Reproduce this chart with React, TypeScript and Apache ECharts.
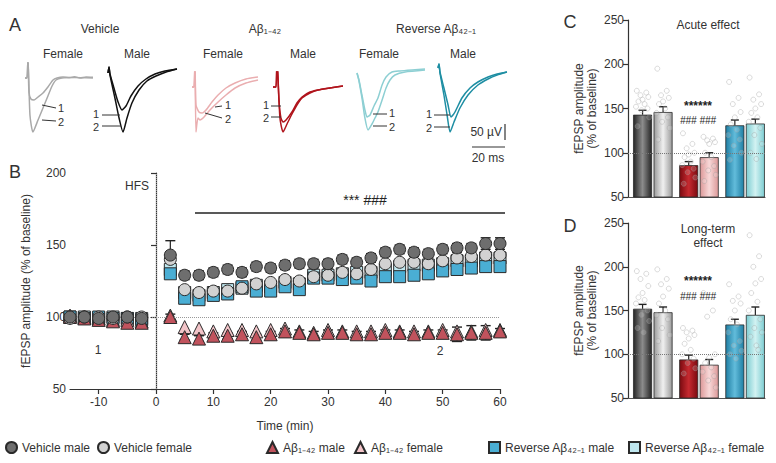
import React, { useEffect, useRef } from "react";
import * as echarts from "echarts";

const FONT = "'Liberation Sans', Arial, Helvetica, sans-serif";
const TXT = "#333";

// ---------- Panel A: example traces (time in ms, amplitude in µV) ----------
const vehFemaleT1 = [[0,0],[1.2,0],[1.8,80],[2.4,-56],[3.6,-84],[5.5,-88],[7.9,-76],[10.9,-60],[13.9,-36],[17,-8],[19.4,0],[23,4],[27.3,2],[30,5],[33.3,0],[37,4],[41.2,3]];
const vehFemaleT2 = [[0,0],[1.2,0],[1.8,80],[3,-148],[4.8,-216],[7.9,-168],[10.9,-120],[13.9,-72],[16.4,-32],[18.8,-8],[22.4,0],[30,2],[41.2,0]];
const vehMaleT1 = [[0,0],[0.6,24],[1.2,-4],[3.6,-60],[6.1,-116],[8.5,-148],[10.9,-132],[13.9,-92],[18.2,-52],[23,-24],[28.5,-4],[34.5,8],[41.8,16]];
const vehMaleT2 = [[0,0],[0.6,24],[1.2,-8],[4.2,-100],[6.7,-180],[9.1,-236],[11.5,-180],[14.5,-120],[18.8,-68],[23.6,-32],[29.1,-12],[35.2,4],[41.8,16]];
const abFemaleT1 = [[0,0],[1.2,0],[1.8,100],[2.4,-72],[4.2,-100],[6.1,-104],[8.5,-92],[12.1,-60],[15.8,-32],[20.6,-4],[26.1,16],[32.7,32],[40,40]];
const abFemaleT2 = [[0,0],[1.2,0],[1.8,100],[2.4,-180],[3.6,-124],[4.8,-132],[7.3,-120],[10.9,-92],[15.8,-60],[20.6,-32],[26.1,-4],[32.7,16],[40,28]];
const abMaleT1 = [[0,0],[1.8,0],[2.4,116],[3.6,-52],[4.8,-124],[6.1,-140],[7.9,-132],[11.5,-100],[14.5,-64],[17.6,-40],[22.4,-20],[27.3,-12],[34.5,-4],[42.4,4]];
const abMaleT2 = [[0,0],[1.8,0],[2.4,116],[4.2,-124],[6.1,-180],[8.5,-148],[11.5,-108],[14.5,-72],[17.6,-44],[22.4,-24],[27.3,-12],[34.5,-4],[42.4,4]];
const revFemaleT1 = [[0,0],[1.2,-28],[3,-88],[4.8,-148],[6.1,-176],[7.9,-168],[10.3,-132],[12.7,-100],[15.2,-48],[17.6,-16],[21.2,4],[26.1,8],[33.3,12],[41.2,16]];
const revFemaleT2 = [[0,0],[1.2,-32],[3,-100],[4.8,-180],[6.7,-228],[9.1,-204],[10.9,-180],[12.7,-156],[15.2,-108],[17.6,-60],[20,-28],[23,-8],[29.1,4],[41.2,12]];
const revMaleT1 = [[0,8],[0.6,24],[1.2,-8],[3.6,-72],[6.1,-140],[7.9,-188],[10.3,-168],[14.5,-112],[19.4,-72],[24.2,-48],[30.3,-28],[35.8,-16],[41.8,-8]];
const revMaleT2 = [[0,8],[0.6,24],[1.2,-12],[3.6,-100],[5.5,-180],[7.3,-248],[9.7,-208],[13.3,-152],[18.2,-100],[24.2,-60],[30.3,-36],[35.8,-20],[41.8,-8]];

// ---------- Panel B: time course ----------
const times = [-15,-12.5,-10,-7.5,-5,-2.5,2.5,5,7.5,10,12.5,15,17.5,20,22.5,25,27.5,30,32.5,35,37.5,40,42.5,45,47.5,50,52.5,55,57.5,60];
const vehicleMale = [100,100,99,100,100,99,143,129,129,131,133,131,135,134,136,137,137,137,140,138,141,145,147,145,144,147,148,148,151,151];
const vehicleFemale = [99,100,100,99,100,100,140,119,117,118,118,120,123,124,126,125,128,129,131,130,133,137,138,138,137,139,141,142,143,143];
const reverseMale = [100,99,100,99,99,98,130,113,112,115,116,121,118,118,121,119,127,127,126,127,125,128,128,129,130,132,133,134,135,135];
const reverseFemale = [100,100,99,100,99,99,133,117,115,117,119,120,122,121,124,123,129,129,130,131,131,133,135,136,136,137,139,139,141,141];
const abMale = [100,99,98,97,96,96,100,86,85,87,87,88,86,88,90,89,88,89,89,88,88,89,89,88,89,89,88,89,89,90];
const abFemale = [101,100,99,98,98,97,101,93,92,90,91,91,90,91,92,90,89,91,90,90,90,91,90,90,90,91,90,90,91,91];
const vehicleMaleSem = [2,2,2,2,2,2,10,3,3,3,3,3,3,3,3,3,3,3,3,3,3,3,3,3,3,3,3,3,4,4];
const abMaleSem = [2,2,2,2,2,2,2,2,2,2,2,2,2,2,2,2,2,2,2,2,2,2,2,2,2,2,5,5,5,2];
const bXTicks = [-10,0,10,20,30,40,50,60];

// ---------- Panels C and D: bar summaries ----------
const acuteMeans = [143,146,86,95,131,133];
const acuteSem = [5,6,4,5,6,5];
const longMeans = [152,148,94,88,134,145];
const longSem = [5,6,5,6,6,9];
const acuteIndividual = [
  [170,168,165,163,160,158,155,152,150,148,140,130],
  [195,170,165,162,158,155,150,145,140,135,128,115],
  [122,110,105,100,98,95,90,86,82,78,72,65],
  [118,116,114,112,110,100,95,90,85,80,75,68],
  [180,162,155,146,140,132,126,120,115,108,100,92],
  [185,166,160,155,150,145,140,135,128,120,110,100,93],
];
const longIndividual = [
  [195,192,186,178,170,165,162,158,150,145,138,130,125],
  [197,186,180,175,166,158,150,145,140,130,122,115],
  [130,127,125,122,118,112,105,100,95,90,84,78],
  [170,150,143,100,96,90,85,80,75,70,62],
  [180,166,161,158,150,140,134,125,115,110,104,100,95],
  [236,212,200,186,181,170,160,150,140,130,125,120,110,105],
];

// ---------- layout / style ----------
const barX = [1, 2, 3.25, 4.25, 5.5, 6.5];
const jitter = [-0.28,0.18,-0.1,0.28,0,-0.2,0.1,-0.32,0.24,-0.05,0.32,-0.24,0.05,0.14];
const barColors = [
  ["#262626", "#8c8c8c"],
  ["#9a9a9a", "#f0f0f0"],
  ["#7a0a10", "#c62a30"],
  ["#dc9898", "#f8d8d8"],
  ["#1f7ea3", "#62bcdb"],
  ["#7dcdd2", "#d2f2f2"],
];
const tracePanels = [
  { x0: 25, y0: 78, color: "#a9a9a9", t: [vehFemaleT1, vehFemaleT2] },
  { x0: 108, y0: 73, color: "#111111", t: [vehMaleT1, vehMaleT2] },
  { x0: 192, y0: 87, color: "#eaaeb0", t: [abFemaleT1, abFemaleT2] },
  { x0: 273, y0: 87, color: "#b0141c", t: [abMaleT1, abMaleT2] },
  { x0: 357, y0: 73, color: "#8dcfd3", t: [revFemaleT1, revFemaleT2] },
  { x0: 438, y0: 70, color: "#1e8ea3", t: [revMaleT1, revMaleT2] },
];

function txt(x: number, y: number, text: string, size = 12, align = "center", extra: any = {}) {
  return {
    type: "text", x, y, silent: true, z: 100,
    style: { text, fill: TXT, fontSize: size, fontFamily: FONT, textAlign: align, textVerticalAlign: "middle", ...extra },
  };
}
function ln(x1: number, y1: number, x2: number, y2: number, w = 1, color = "#333") {
  return { type: "line", silent: true, z: 100, shape: { x1, y1, x2, y2 }, style: { stroke: color, lineWidth: w } };
}

function errRender(color: string, both: boolean, cap: number) {
  return (params: any, api: any) => {
    const x = api.value(0), y = api.value(1), e = api.value(2);
    const top = api.coord([x, y + e]);
    const bot = api.coord([x, both ? y - e : y]);
    const children: any[] = [
      { type: "line", shape: { x1: top[0], y1: bot[1], x2: top[0], y2: top[1] }, style: { stroke: color, lineWidth: 1.2 } },
      { type: "line", shape: { x1: top[0] - cap, y1: top[1], x2: top[0] + cap, y2: top[1] }, style: { stroke: color, lineWidth: 1.4 } },
    ];
    if (both) children.push({ type: "line", shape: { x1: top[0] - cap, y1: bot[1], x2: top[0] + cap, y2: bot[1] }, style: { stroke: color, lineWidth: 1.4 } });
    return { type: "group", children };
  };
}

function buildOption() {
  const grid: any[] = [];
  const xAxis: any[] = [];
  const yAxis: any[] = [];
  const series: any[] = [];

  tracePanels.forEach((p, i) => {
    grid.push({ left: p.x0, top: p.y0 - 15, width: 43 * 1.65, height: 80 });
    xAxis.push({ gridIndex: i, type: "value", min: 0, max: 43, show: false });
    yAxis.push({ gridIndex: i, type: "value", min: -260, max: 60, show: false });
    p.t.forEach((d) => {
      series.push({ type: "line", xAxisIndex: i, yAxisIndex: i, data: d, showSymbol: false, smooth: 0.2, silent: true, lineStyle: { color: p.color, width: 1.5 } });
    });
  });

  const axisLine = { lineStyle: { color: "#333", width: 1.2 } };
  const axisLabel = { fontSize: 12, color: TXT, fontFamily: FONT };
  const nameStyle = { fontSize: 12, color: TXT, fontFamily: FONT };

  // Panel B
  grid.push({ left: 70, top: 173, width: 430, height: 216 });
  xAxis.push({
    gridIndex: 6, type: "value", min: -15, max: 60,
    axisLine, axisTick: { customValues: bXTicks, length: 5, lineStyle: { color: "#333", width: 1.2 } },
    axisLabel: { ...axisLabel, customValues: bXTicks, margin: 7 }, splitLine: { show: false },
    name: "Time (min)", nameLocation: "middle", nameGap: 31, nameTextStyle: nameStyle,
  });
  yAxis.push({
    gridIndex: 6, type: "value", min: 50, max: 200, interval: 50,
    axisLine: { show: true, ...axisLine }, axisTick: { show: true, length: 5, lineStyle: { color: "#333", width: 1.2 } },
    axisLabel: { ...axisLabel, margin: 4 }, splitLine: { show: false },
    name: "fEPSP amplitude (% of baseline)", nameLocation: "middle", nameRotate: 90, nameGap: 38,
    nameTextStyle: nameStyle,
  });

  const bSpecs = [
    { name: "Reverse Aβ₄₂₋₁ female", data: reverseFemale, symbol: "rect", color: "#bfe7ef" },
    { name: "Reverse Aβ₄₂₋₁ male", data: reverseMale, symbol: "rect", color: "#4aaed4" },
    { name: "Aβ₁₋₄₂ female", data: abFemale, symbol: "triangle", color: "#f2c4c8" },
    { name: "Aβ₁₋₄₂ male", data: abMale, symbol: "triangle", color: "#c1535d" },
    { name: "Vehicle female", data: vehicleFemale, symbol: "circle", color: "#d2d2d2" },
    { name: "Vehicle male", data: vehicleMale, symbol: "circle", color: "#6e6e6e" },
  ];

  series.push({
    type: "custom", xAxisIndex: 6, yAxisIndex: 6, silent: true, z: 1,
    renderItem: errRender("#222", true, 5),
    data: times.map((t, i) => [t, abMale[i], abMaleSem[i]]),
  });
  series.push({
    type: "custom", xAxisIndex: 6, yAxisIndex: 6, silent: true, z: 1,
    renderItem: errRender("#222", true, 5),
    data: times.map((t, i) => [t, vehicleMale[i], vehicleMaleSem[i]]),
  });

  bSpecs.forEach((s, k) => {
    const ser: any = {
      type: "scatter", name: s.name, xAxisIndex: 6, yAxisIndex: 6, silent: true, z: 2 + k,
      symbol: s.symbol, symbolSize: s.symbol === "triangle" ? 13 : 12,
      itemStyle: { color: s.color, borderColor: "#2a2a2a", borderWidth: 1, opacity: 1 },
      data: times.map((t, i) => [t, s.data[i]]),
    };
    if (k === 0) {
      ser.markLine = {
        silent: true, symbol: "none", label: { show: false },
        lineStyle: { type: "dotted", color: "#999", width: 1 },
        data: [{ yAxis: 100 }, { xAxis: 0 }],
      };
    }
    series.push(ser);
  });

  // Panels C and D
  const barPanels = [
    { top: 20, height: 177, means: acuteMeans, sem: acuteSem, ind: acuteIndividual },
    { top: 223, height: 175, means: longMeans, sem: longSem, ind: longIndividual },
  ];
  barPanels.forEach((bp, j) => {
    const gi = 7 + j;
    grid.push({ left: 628, top: bp.top, width: 137, height: bp.height });
    xAxis.push({
      gridIndex: gi, type: "value", min: 0.29, max: 6.97,
      axisLine: { lineStyle: { color: "#555", width: 1.2 } }, axisTick: { show: false }, axisLabel: { show: false }, splitLine: { show: false },
    });
    yAxis.push({
      gridIndex: gi, type: "value", min: 50, max: 250, interval: 50,
      axisLine: { show: true, ...axisLine }, axisTick: { show: true, length: 5, lineStyle: { color: "#333", width: 1.2 } },
      axisLabel: { ...axisLabel, margin: 4 }, splitLine: { show: false },
      name: "fEPSP amplitude\n(% of baseline)", nameLocation: "middle", nameRotate: 90, nameGap: 30,
      nameTextStyle: { ...nameStyle, lineHeight: 13 },
    });
    series.push({
      type: "bar", xAxisIndex: gi, yAxisIndex: gi, barWidth: 19, silent: true, z: 2,
      data: bp.means.map((m, i) => ({
        value: [barX[i], m],
        itemStyle: {
          color: new echarts.graphic.LinearGradient(0, 0, 1, 0, [
            { offset: 0, color: barColors[i][0] },
            { offset: 0.5, color: barColors[i][1] },
            { offset: 1, color: barColors[i][0] },
          ]),
          borderColor: "#2a2a2a", borderWidth: 0.8,
        },
      })),
    });
    series.push({
      type: "custom", xAxisIndex: gi, yAxisIndex: gi, silent: true, z: 3,
      renderItem: errRender("#222", false, 4),
      data: bp.means.map((m, i) => [barX[i], m, bp.sem[i]]),
    });
    const pts: number[][] = [];
    bp.ind.forEach((arr, i) => arr.forEach((v, k) => pts.push([barX[i] + jitter[k % jitter.length], v])));
    series.push({
      type: "scatter", xAxisIndex: gi, yAxisIndex: gi, silent: true, z: 4, symbolSize: 5,
      itemStyle: { color: "rgba(255,255,255,0.2)", borderColor: "rgba(160,160,160,0.6)", borderWidth: 0.8 },
      data: pts,
      markLine: {
        silent: true, symbol: "none", label: { show: false },
        lineStyle: { type: "dotted", color: "#777", width: 1 },
        data: [{ yAxis: 100 }],
      },
    });
  });

  const legendSpecs = [
    { name: "Vehicle male", left: 5 },
    { name: "Vehicle female", left: 97 },
    { name: "Aβ₁₋₄₂ male", left: 266 },
    { name: "Aβ₁₋₄₂ female", left: 354 },
    { name: "Reverse Aβ₄₂₋₁ male", left: 488 },
    { name: "Reverse Aβ₄₂₋₁ female", left: 628 },
  ];
  const legend = legendSpecs.map((l) => ({
    data: [l.name], left: l.left, top: 441, padding: 0, itemWidth: 11, itemHeight: 11, itemGap: 4,
    selectedMode: false, textStyle: { fontSize: 12, color: TXT, fontFamily: FONT },
  }));

  const graphic: any[] = [
    txt(15, 25, "A", 18),
    txt(100, 29, "Vehicle"),
    txt(265, 29, "Aβ₁₋₄₂"),
    txt(436, 29, "Reverse Aβ₄₂₋₁"),
    txt(63, 54, "Female"), txt(137, 54, "Male"),
    txt(223, 54, "Female"), txt(303, 54, "Male"),
    txt(379, 54, "Female"), txt(463, 54, "Male"),
    // trace labels
    ln(42, 105, 56, 108), txt(61, 108, "1", 11), ln(42, 120, 56, 121), txt(61, 122, "2", 11),
    ln(102, 115, 120, 115), txt(99, 114, "1", 11, "right"), ln(102, 126, 121, 126), txt(99, 127, "2", 11, "right"),
    ln(215, 107, 222, 106), txt(228, 105, "1", 11), ln(205, 113, 222, 118), txt(228, 119, "2", 11),
    ln(271, 106, 281, 106), txt(269, 105, "1", 11, "right"), ln(271, 117, 281, 117), txt(269, 118, "2", 11, "right"),
    ln(373, 114, 387, 114), txt(392, 113, "1", 11), ln(373, 126, 387, 126), txt(392, 127, "2", 11),
    ln(434, 115, 450, 115), txt(432, 114, "1", 11, "right"), ln(434, 127, 450, 127), txt(432, 128, "2", 11, "right"),
    // scale bar
    ln(505, 124, 505, 140, 1.2), txt(502, 132, "50 µV", 12, "right"),
    ln(472, 147, 505, 147, 1.2), txt(488, 158, "20 ms", 12),
    // panel B
    txt(15, 172, "B", 18),
    txt(137, 186, "HFS", 12),
    ln(195, 213, 505, 213, 1.6, "#222"),
    txt(365, 200, "*** ###", 14, "center", { fill: "#222" }),
    txt(98, 350, "1", 12), txt(440, 351, "2", 12),
    // panel C / D
    txt(570, 22, "C", 18),
    txt(708, 25, "Acute effect", 12),
    txt(698, 106, "******", 12, "center", { fontWeight: "bold", fill: "#222" }),
    txt(698, 120, "### ###", 10, "center", { fontStyle: "italic", fill: "#222" }),
    txt(570, 226, "D", 18),
    txt(708, 229, "Long-term", 12),
    txt(708, 243, "effect", 12),
    txt(698, 281, "******", 12, "center", { fontWeight: "bold", fill: "#222" }),
    txt(698, 296, "### ###", 10, "center", { fontStyle: "italic", fill: "#222" }),
  ];

  return {
    animation: false,
    backgroundColor: "#ffffff",
    textStyle: { fontFamily: FONT },
    grid, xAxis, yAxis, series, legend, graphic,
  };
}

export default function App() {
  const ref = useRef<HTMLDivElement>(null);
  useEffect(() => {
    const chart = echarts.init(ref.current!, null, { renderer: "svg" });
    chart.setOption(buildOption() as any);
    return () => chart.dispose();
  }, []);
  return <div ref={ref} style={{ position: "fixed", left: 0, top: 0, width: 776, height: 463 }} />;
}
